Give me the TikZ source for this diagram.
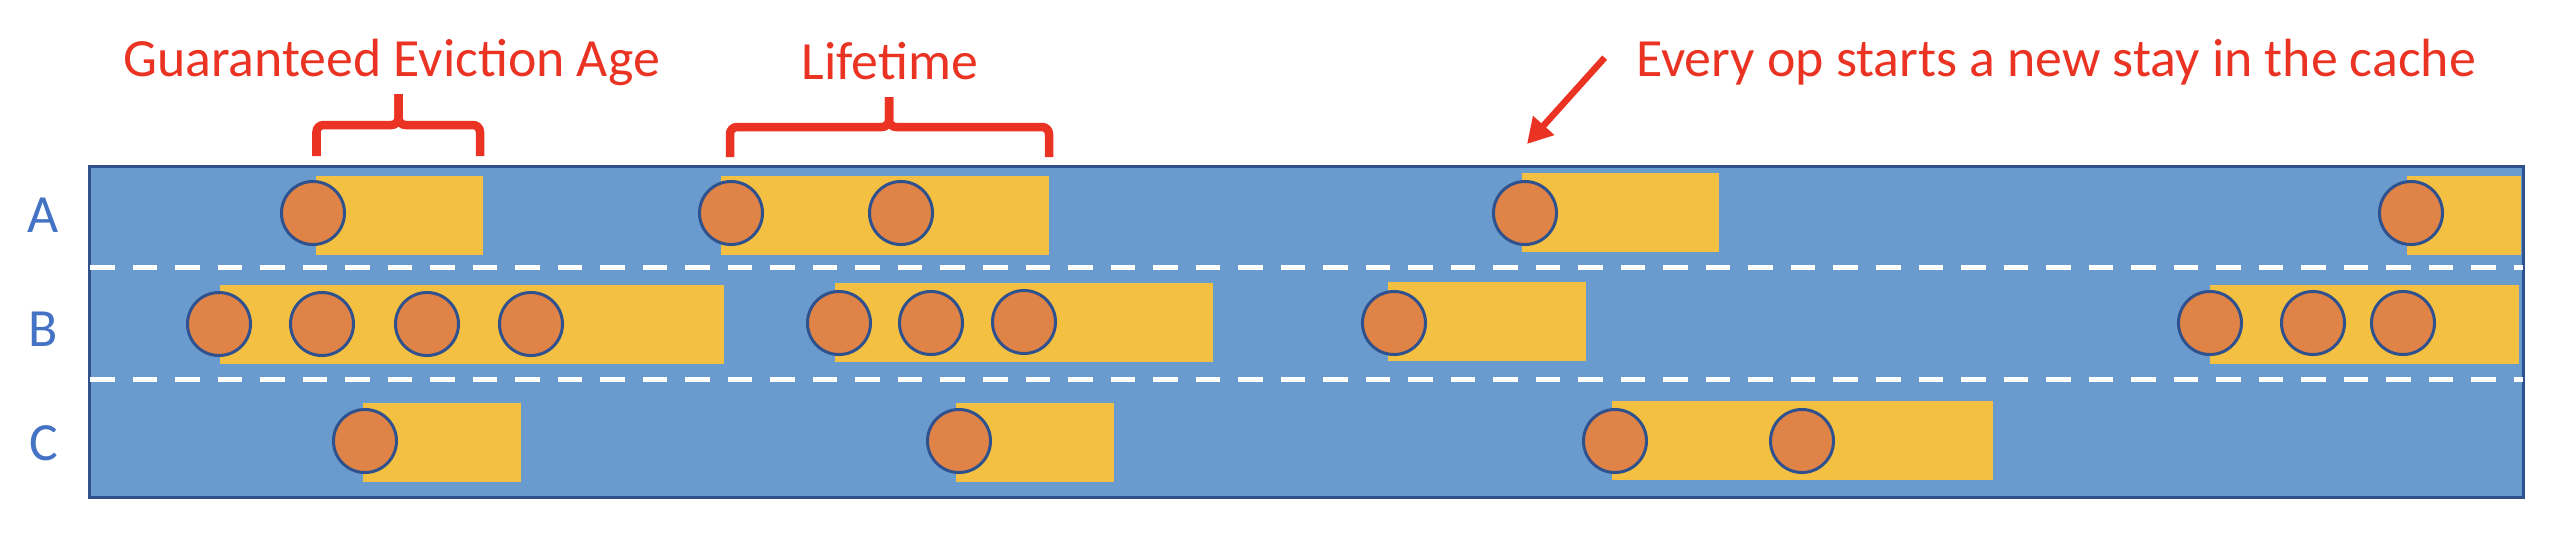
\documentclass[tikz,border=0pt]{standalone}
\usepackage{fontspec}
\setmainfont{Carlito}
\usetikzlibrary{arrows.meta}
\definecolor{lanefill}{RGB}{105,155,206}
\definecolor{laneedge}{RGB}{47,82,143}
\definecolor{stayfill}{RGB}{244,192,66}
\definecolor{opfill}{RGB}{224,131,70}
\definecolor{notered}{RGB}{234,51,35}
\definecolor{keyblue}{RGB}{68,114,196}
\tikzset{
    stay/.style={fill=stayfill, inner sep=0pt, outer sep=0pt, minimum height=0.787cm},
    op/.style={circle, draw=laneedge, fill=opfill, line width=0.03cm, inner sep=0pt, minimum size=0.63cm},
    lanekey/.style={text=keyblue, anchor=base, font=\fontsize{15.3}{18}\selectfont},
    note/.style={text=notered, anchor=base, font=\fontsize{15.3}{18}\selectfont},
    lanesep/.style={draw=white, line width=0.047cm, dash pattern=on 0.245cm off 0.18cm},
    bracket/.style={draw=notered, line width=0.085cm, rounded corners=0.07cm},
    pointer/.style={draw=notered, line width=0.065cm, -{Triangle[length=0.25cm,width=0.27cm]}},
}
\begin{document}
\begin{tikzpicture}[x=0.01cm, y=-0.01cm]
            \useasboundingbox (0,0) rectangle (2556,536);
            \node(cache) at (1306.5,332) [draw=laneedge, fill=lanefill, line width=0.03cm, minimum width=24.33cm, minimum height=3.30cm] {};
            \draw[lanesep] (90,267.5) -- (2523,267.5);
            \draw[lanesep] (90,379.5) -- (2523,379.5);

            % lane labels
            \node(keyA) at (43,232) [lanekey] {A};
            \node(keyB) at (43,346) [lanekey] {B};
            \node(keyC) at (44,460) [lanekey] {C};

            % stays in the cache
            \node(stayA1) at (399.5,215.5) [stay, minimum width=1.67cm] {};
            \node(stayA2) at (885,215.5) [stay, minimum width=3.28cm] {};
            \node(stayA3) at (1620.5,212.5) [stay, minimum width=1.97cm] {};
            \node(stayA4) at (2464,215.5) [stay, minimum width=1.14cm] {};
            \node(stayB1) at (472,324.3) [stay, minimum width=5.04cm] {};
            \node(stayB2) at (1024,322.3) [stay, minimum width=3.78cm] {};
            \node(stayB3) at (1487,321.3) [stay, minimum width=1.98cm] {};
            \node(stayB4) at (2364.5,324.3) [stay, minimum width=3.09cm] {};
            \node(stayC1) at (442,442.3) [stay, minimum width=1.58cm] {};
            \node(stayC2) at (1035,442.3) [stay, minimum width=1.58cm] {};
            \node(stayC3) at (1802.5,440.3) [stay, minimum width=3.81cm] {};

            % ops
            \node(opA1) at (313,213) [op] {};
            \node(opA2) at (731,213) [op] {};
            \node(opA3) at (901,213) [op] {};
            \node(opA4) at (1525,213) [op] {};
            \node(opA5) at (2411,213) [op] {};
            \node(opB1) at (219,324) [op] {};
            \node(opB2) at (322,324) [op] {};
            \node(opB3) at (427,324) [op] {};
            \node(opB4) at (531,324) [op] {};
            \node(opB5) at (839,323) [op] {};
            \node(opB6) at (931,323) [op] {};
            \node(opB7) at (1024,322) [op] {};
            \node(opB8) at (1394,323) [op] {};
            \node(opB9) at (2210,323) [op] {};
            \node(opB10) at (2313,323) [op] {};
            \node(opB11) at (2403,323) [op] {};
            \node(opC1) at (365,441) [op] {};
            \node(opC2) at (959,441) [op] {};
            \node(opC3) at (1615,441) [op] {};
            \node(opC4) at (1802,441) [op] {};

            % notes
            \node(agenote) at (391.5,76) [note] {Guaranteed Eviction Age};
            \node(lifenote) at (890,79) [note] {Lifetime};
            \node(opnote) at (2056,76) [note] {Every op starts a new stay in the cache};
            \coordinate(opstay) at (1527,144);

            \draw[bracket] (316.5,156) -- (316.5,125) -- (398.5,125) -- (398.5,94);
            \draw[bracket] (480,156) -- (480,125) -- (398.5,125) -- (398.5,94);
            \draw[bracket] (730,157) -- (730,127) -- (889,127) -- (889,97);
            \draw[bracket] (1049,157) -- (1049,127) -- (889,127) -- (889,97);
            \draw[pointer] ([xshift=-0.19cm,yshift=0.04cm]opnote.west) -- (opstay);
        \end{tikzpicture}
\end{document}
